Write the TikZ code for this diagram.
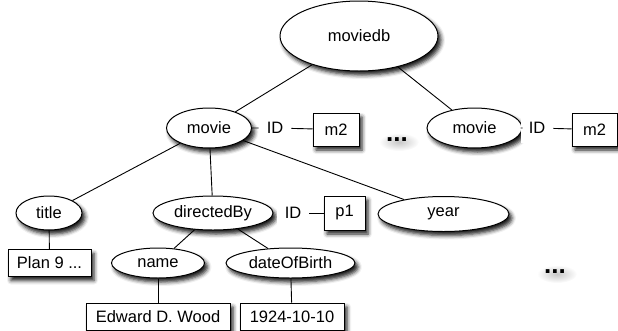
\documentclass[tikz,border=0pt]{standalone}
\usepackage{fontspec}
\setmainfont{Liberation Sans}
\usetikzlibrary{shapes.geometric,shadows.blur}

\begin{document}
\begin{tikzpicture}[x=1pt,y=1pt,
  every node/.style={font=\fontsize{16.5}{18}\selectfont},
  shad/.style={blur shadow={shadow xshift=3pt, shadow yshift=-4pt,
      shadow blur radius=4pt, shadow opacity=90}},
  elem/.style={ellipse, draw, line width=1pt, fill=white, inner sep=0pt, shad},
  val/.style={rectangle, draw, line width=1pt, fill=white, inner sep=0pt, shad},
  idlab/.style={fill=white, inner xsep=8pt, inner ysep=9pt},
  conn/.style={line width=0.9pt},
  more/.style={font=\fontsize{26}{26}\selectfont\bfseries, anchor=base, inner sep=0pt},
  moreshade/.style={inner color=black!22, outer color=white},
]
\useasboundingbox (0,0) rectangle (618,-330);

% soft shadows under the "..." marks
\shade[moreshade] (399,-142) ellipse (20pt and 9pt);
\shade[moreshade] (557,-274) ellipse (20pt and 9pt);

% root
\node[elem, minimum width=158pt, minimum height=70pt] (db) at (359,-36) {moviedb};

% first movie with its ID
\node[elem, minimum width=85pt, minimum height=40pt] (m1) at (209,-128) {movie};
\node[idlab] (id1) at (275,-128) {ID};
\node[val, minimum width=46pt, minimum height=33pt] (v1) at (336,-129.5) {m2};

% second movie with its ID
\node[elem, minimum width=95pt, minimum height=40pt] (m2) at (474.5,-128) {movie};
\node[idlab] (id2) at (537,-128) {ID};
\node[val, minimum width=45pt, minimum height=33pt] (v2) at (594.5,-129.5) {m2};

% children of the first movie
\node[elem, minimum width=66pt, minimum height=34pt] (title) at (49,-213) {title};
\node[val, minimum width=83pt, minimum height=27pt] (plan) at (49.5,-263) {Plan 9 ...};
\node[elem, minimum width=120pt, minimum height=34pt] (dir) at (213,-213) {directedBy};
\node[idlab] (id3) at (293,-213) {ID};
\node[val, minimum width=41pt, minimum height=34pt] (p1) at (344.5,-213) {p1};
\node[elem, minimum width=131pt, minimum height=35pt] (year) at (443.5,-214) {year};

% children of directedBy
\node[elem, minimum width=93pt, minimum height=30pt] (name) at (158,-263) {name};
\node[elem, minimum width=129pt, minimum height=30pt] (dob) at (290.5,-263) {dateOfBirth};
\node[val, minimum width=144pt, minimum height=27pt] (ed) at (158,-316.5) {Edward D. Wood};
\node[val, minimum width=104pt, minimum height=27pt] (dt) at (292,-316.5) {1924-10-10};

% marks for omitted parts
\node[more] (more1) at (397,-141) {...};
\node[more] (more2) at (555,-273) {...};

% connectors
\draw[conn] (db) -- (m1);
\draw[conn] (db) -- (m2);
\draw[conn] (m1) -- (id1) -- (v1);
\draw[conn] (m2) -- (id2) -- (v2);
\draw[conn] (m1) -- (title);
\draw[conn] (m1) -- (dir);
\draw[conn] (m1) -- (year);
\draw[conn] (id3) -- (p1);
\draw[conn] (title) -- (plan);
\draw[conn] (dir) -- (name);
\draw[conn] (dir) -- (dob);
\draw[conn] (name) -- (ed);
\draw[conn] (dob) -- (dt);
\end{tikzpicture}
\end{document}
